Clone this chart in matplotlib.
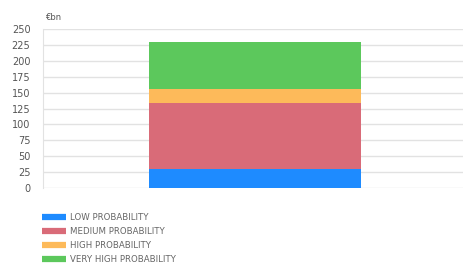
import matplotlib
matplotlib.use("Agg")
import matplotlib.pyplot as plt
from matplotlib.lines import Line2D

categories = [""]
series_names = ["LOW PROBABILITY", "MEDIUM PROBABILITY", "HIGH PROBABILITY", "VERY HIGH PROBABILITY"]
low = [30]
medium = [103]
high = [22]
very_high = [75]
series_values = [low, medium, high, very_high]
colors = ["#1E8BFF", "#D96B78", "#FDBA5A", "#5CC85C"]
yticks = [0, 25, 50, 75, 100, 125, 150, 175, 200, 225, 250]

fig = plt.figure(figsize=(4.63, 2.63), dpi=100)
ax = fig.add_axes([43 / 463, 0.2863, 424 / 463, 0.6023])

bottom = [0] * len(categories)
for vals, col, name in zip(series_values, colors, series_names):
    ax.bar(categories, vals, bottom=bottom, color=col, width=0.5, label=name, zorder=3)
    bottom = [b + v for b, v in zip(bottom, vals)]

ax.set_xlim(-0.5, 0.5)
ax.set_ylim(0, 250)
ax.set_yticks(yticks)
ax.set_yticklabels([str(t) for t in yticks])
ax.yaxis.grid(True, color="#e2e2e2", linewidth=1, zorder=0)
ax.tick_params(axis="y", length=0, labelsize=7, labelcolor="#555555", pad=9)
ax.tick_params(axis="x", length=0, labelbottom=False)
for s in ["top", "right", "bottom"]:
    ax.spines[s].set_visible(False)
ax.spines["left"].set_color("#e2e2e2")

fig.text(45 / 463, 1 - 17 / 263, "€bn", fontsize=6, color="#555555", va="center", ha="left")

handles = [Line2D([0], [0], color=c, linewidth=4.5, solid_capstyle="butt") for c in colors]
fig.legend(handles, series_names, loc="upper left", bbox_to_anchor=(42 / 463, 1 - 213 / 263),
           frameon=False, fontsize=6.2, labelcolor="#666666", handlelength=2.8,
           handletextpad=0.5, labelspacing=0.6, borderaxespad=0, borderpad=0)

fig.savefig("out.png", dpi=100)
